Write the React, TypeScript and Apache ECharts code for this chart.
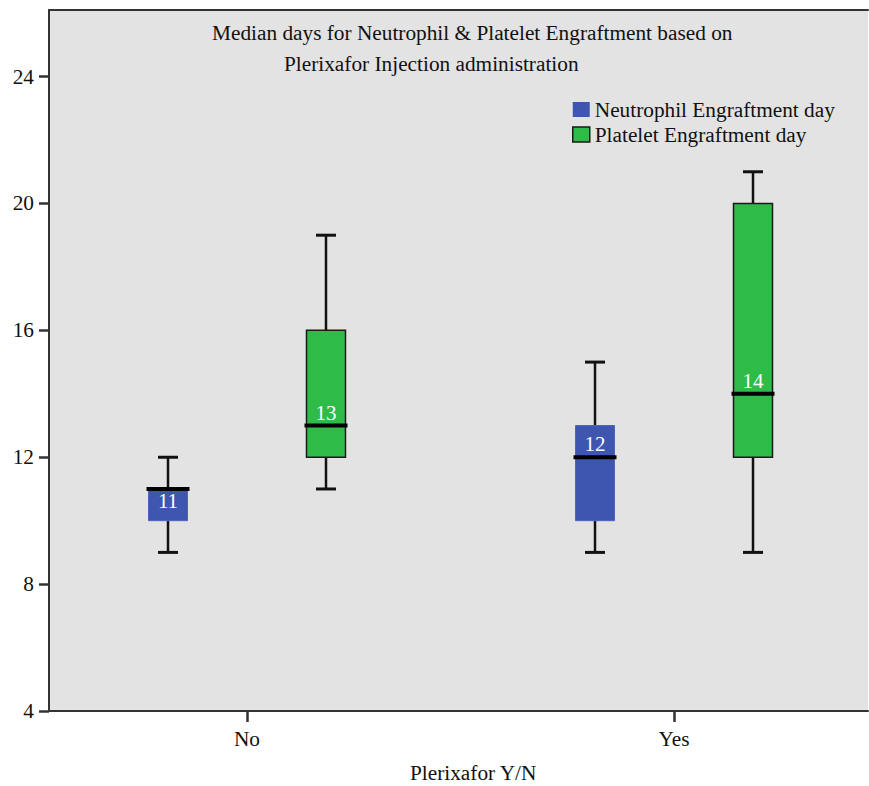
import React, { useEffect, useRef } from "react";
import * as echarts from "echarts";

const categories = ["No", "Yes"];
// [min, Q1, median, Q3, max]
const neutrophil = [
  [9, 10, 11, 11, 12],
  [9, 10, 12, 13, 15],
];
const platelet = [
  [11, 12, 13, 16, 19],
  [9, 12, 14, 20, 21],
];
const yTicks = [4, 8, 12, 16, 20, 24];
const seriesNames = ["Neutrophil Engraftment day", "Platelet Engraftment day"];

const FONT = '"Liberation Serif", "Times New Roman", serif';

function makeRender(offset: number, fill: string, stroke: string, strokeW: number) {
  return (params: any, api: any) => {
    const x = api.value(0) + offset;
    const vMin = api.value(1), q1 = api.value(2), med = api.value(3), q3 = api.value(4), vMax = api.value(5);
    const [cx, yMin] = api.coord([x, vMin]);
    const yQ1 = api.coord([x, q1])[1];
    const yMed = api.coord([x, med])[1];
    const yQ3 = api.coord([x, q3])[1];
    const yMax = api.coord([x, vMax])[1];
    const bw = 39;
    const cap = 20;
    const lineStyle = { stroke: "#111", lineWidth: 2.5 };
    const labelY = med === q3 ? yMed + 12 : yMed - 13;
    return {
      type: "group",
      children: [
        { type: "line", shape: { x1: cx, y1: yMin, x2: cx, y2: yQ1 }, style: lineStyle },
        { type: "line", shape: { x1: cx, y1: yQ3, x2: cx, y2: yMax }, style: lineStyle },
        { type: "line", shape: { x1: cx - cap / 2, y1: yMin, x2: cx + cap / 2, y2: yMin }, style: { stroke: "#111", lineWidth: 3 } },
        { type: "line", shape: { x1: cx - cap / 2, y1: yMax, x2: cx + cap / 2, y2: yMax }, style: { stroke: "#111", lineWidth: 3 } },
        {
          type: "rect",
          shape: { x: cx - bw / 2, y: yQ3, width: bw, height: yQ1 - yQ3 },
          style: { fill, stroke, lineWidth: strokeW },
        },
        {
          type: "line",
          shape: { x1: cx - bw / 2 - 2, y1: yMed, x2: cx + bw / 2 + 2, y2: yMed },
          style: { stroke: "#000", lineWidth: 4 },
        },
        {
          type: "text",
          x: cx,
          y: labelY,
          style: {
            text: String(med),
            fill: "#fff",
            fontSize: 21,
            fontFamily: FONT,
            align: "center",
            verticalAlign: "middle",
          },
        },
      ],
    };
  };
}

export default function App() {
  const ref = useRef<HTMLDivElement>(null);
  useEffect(() => {
    if (!ref.current) return;
    const chart = echarts.init(ref.current, null, { renderer: "svg" });
    const xMin = -0.4637;
    const xMax = 1.4543;
    const off = 0.185;
    const blue = "#3e56af";
    const green = "#2fbb48";
    chart.setOption({
      animation: false,
      backgroundColor: "#fff",
      title: [
        {
          text: "Median days for Neutrophil & Platelet Engraftment based on",
          left: 212,
          top: 22,
          padding: 0,
          textStyle: { fontFamily: FONT, fontSize: 21.3, fontWeight: "normal", color: "#111" },
        },
        {
          text: "Plerixafor Injection administration",
          left: 284,
          top: 53,
          padding: 0,
          textStyle: { fontFamily: FONT, fontSize: 21.3, fontWeight: "normal", color: "#111" },
        },
        {
          text: "Plerixafor Y/N",
          left: 410,
          top: 762,
          padding: 0,
          textStyle: { fontFamily: FONT, fontSize: 21.3, fontWeight: "normal", color: "#111" },
        },
      ],
      legend: {
        orient: "vertical",
        left: 572,
        top: 99,
        itemWidth: 17,
        itemHeight: 15,
        itemGap: 4,
        padding: 0,
        textStyle: { fontFamily: FONT, fontSize: 21.3, color: "#111" },
        data: [
          { name: seriesNames[0], icon: "rect", itemStyle: { color: blue, borderColor: blue, borderWidth: 0 } },
          { name: seriesNames[1], icon: "rect", itemStyle: { color: green, borderColor: "#1a1a1a", borderWidth: 1.5 } },
        ],
      },
      grid: {
        left: 49,
        right: 1,
        top: 10,
        bottom: 75,
        show: true,
        backgroundColor: "#e3e3e3",
        borderWidth: 0,
      },
      xAxis: [
        {
          type: "value",
          min: xMin,
          max: xMax,
          position: "bottom",
          splitLine: { show: false },
          axisLine: { show: true, onZero: false, lineStyle: { color: "#333", width: 2 } },
          axisTick: { show: true, customValues: [0, 1], length: 11, lineStyle: { color: "#333", width: 2.5 } },
          axisLabel: {
            customValues: [0, 1],
            formatter: (v: number) => categories[Math.round(v)] ?? "",
            fontFamily: FONT,
            fontSize: 21.3,
            color: "#111",
            margin: 17,
          },
        },
        {
          type: "value",
          min: xMin,
          max: xMax,
          position: "top",
          splitLine: { show: false },
          axisLine: { show: true, onZero: false, lineStyle: { color: "#333", width: 2 } },
          axisTick: { show: false },
          axisLabel: { show: false },
        },
      ],
      yAxis: {
        type: "value",
        min: 4,
        max: 26.1,
        position: "left",
        splitLine: { show: false },
        axisLine: { show: true, onZero: false, lineStyle: { color: "#333", width: 2 } },
        axisTick: { show: true, customValues: yTicks, length: 10, lineStyle: { color: "#333", width: 2.5 } },
        axisLabel: {
          customValues: yTicks,
          fontFamily: FONT,
          fontSize: 21.3,
          color: "#111",
          margin: 15,
        },
      },
      series: [
        {
          name: seriesNames[0],
          type: "custom",
          itemStyle: { color: blue },
          renderItem: makeRender(-off, blue, "#5064b8", 1),
          encode: { x: 0, y: [1, 2, 3, 4, 5] },
          data: neutrophil.map((d, i) => [i, ...d]),
        },
        {
          name: seriesNames[1],
          type: "custom",
          itemStyle: { color: green },
          renderItem: makeRender(off, green, "#1a1a1a", 1.5),
          encode: { x: 0, y: [1, 2, 3, 4, 5] },
          data: platelet.map((d, i) => [i, ...d]),
        },
      ],
    });
    return () => chart.dispose();
  }, []);
  return (
    <div
      ref={ref}
      style={{ position: "fixed", left: 0, top: 0, width: 869, height: 786 }}
    />
  );
}
